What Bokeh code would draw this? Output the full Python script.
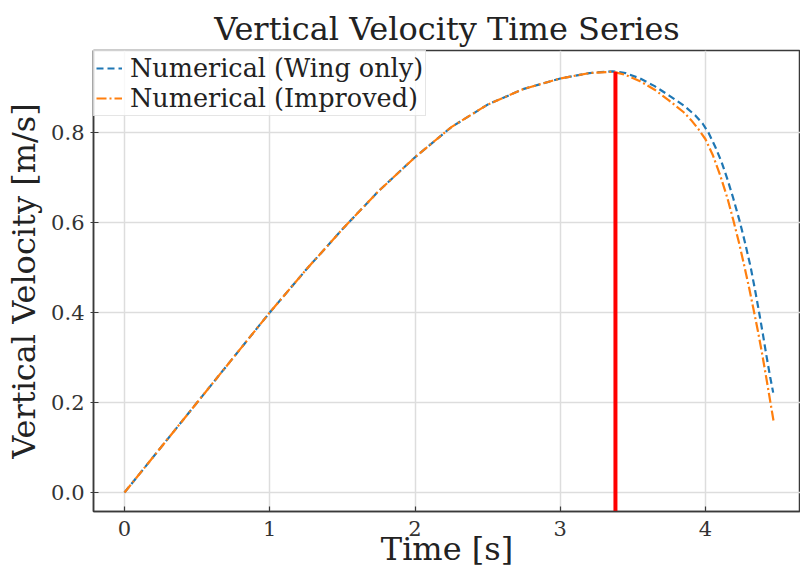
from bokeh.plotting import figure
from bokeh.models import Range1d, FixedTicker, Legend, LegendItem
from bokeh.embed import file_html
from bokeh.resources import INLINE

# ---- data ----
time_wing = [0.0, 0.5, 1.0, 1.25, 1.5, 1.75, 2.0, 2.25, 2.5, 2.75, 3.0, 3.2, 3.36,
             3.45, 3.55, 3.65, 3.75, 3.85, 3.93, 3.98, 4.02, 4.07, 4.11, 4.15, 4.19,
             4.236, 4.27, 4.31, 4.34, 4.367, 4.395, 4.42, 4.445, 4.466]
vel_wing = [0.0, 0.2, 0.4, 0.495, 0.585, 0.67, 0.745, 0.812, 0.862, 0.897, 0.920, 0.932, 0.936,
            0.932, 0.920, 0.903, 0.882, 0.860, 0.838, 0.820, 0.800, 0.766, 0.735, 0.697, 0.655,
            0.602, 0.558, 0.502, 0.452, 0.404, 0.352, 0.303, 0.257, 0.222]

time_improved = [0.0, 0.5, 1.0, 1.25, 1.5, 1.75, 2.0, 2.25, 2.5, 2.75, 3.0, 3.2, 3.36,
                 3.45, 3.55, 3.65, 3.75, 3.85, 3.90, 3.95, 4.00, 4.05, 4.10, 4.15, 4.19,
                 4.23, 4.264, 4.30, 4.33, 4.36, 4.39, 4.42, 4.447, 4.47]
vel_improved = [0.0, 0.2, 0.4, 0.495, 0.585, 0.67, 0.745, 0.812, 0.862, 0.897, 0.920, 0.932, 0.935,
                0.928, 0.914, 0.895, 0.871, 0.845, 0.828, 0.808, 0.785, 0.750, 0.706, 0.655, 0.607,
                0.556, 0.508, 0.455, 0.408, 0.360, 0.308, 0.252, 0.200, 0.156]

peak_time = [3.38]
peak_velocity = [0.935]

x_ticks = [0, 1, 2, 3, 4]
x_tick_labels = ["0", "1", "2", "3", "4"]
y_ticks = [0.0, 0.2, 0.4, 0.6, 0.8]
y_tick_labels = ["0.0", "0.2", "0.4", "0.6", "0.8"]

x_min, x_max = -0.2134, 4.654
y_min, y_max = -0.0422, 0.9822

FONT = "DejaVu Serif"

p = figure(width=800, height=573, output_backend="svg", toolbar_location=None,
           x_range=Range1d(x_min, x_max), y_range=Range1d(y_min, y_max),
           min_border_left=93, min_border_right=0, min_border_top=50, min_border_bottom=62)

p.title.text = "Vertical Velocity Time Series"
p.title.text_font = FONT
p.title.text_font_size = "32px"
p.title.text_font_style = "normal"
p.title.text_color = "#222222"
p.title.align = "center"
p.title.standoff = 6

p.outline_line_color = "#3a3a3a"
p.outline_line_width = 1.5
p.background_fill_color = "white"
p.border_fill_color = "white"

p.xgrid.grid_line_color = "#dddddd"
p.ygrid.grid_line_color = "#dddddd"
p.xgrid.grid_line_width = 1.5
p.ygrid.grid_line_width = 1.5

p.xaxis.ticker = FixedTicker(ticks=x_ticks)
p.yaxis.ticker = FixedTicker(ticks=y_ticks)
p.xaxis.major_label_overrides = {t: l for t, l in zip(x_ticks, x_tick_labels)}
p.yaxis.major_label_overrides = {t: l for t, l in zip(y_ticks, y_tick_labels)}

for ax in (p.xaxis, p.yaxis):
    ax.axis_line_color = "#3a3a3a"
    ax.axis_line_width = 1.5
    ax.major_tick_line_color = "#3a3a3a"
    ax.major_tick_line_width = 1.2
    ax.minor_tick_line_color = None
    ax.major_label_text_font = FONT
    ax.major_label_text_font_size = "21px"
    ax.major_label_text_color = "#333333"
    ax.axis_label_text_font = FONT
    ax.axis_label_text_font_style = "normal"
    ax.axis_label_text_color = "#222222"

p.xaxis.axis_label = "Time [s]"
p.xaxis.axis_label_text_font_size = "32px"
p.xaxis.major_tick_in = 5
p.xaxis.major_tick_out = 0
p.xaxis.major_label_standoff = 9
p.xaxis.axis_label_standoff = -9

p.yaxis.axis_label = "Vertical Velocity [m/s]"
p.yaxis.axis_label_text_font_size = "32px"
p.yaxis.major_tick_in = 5
p.yaxis.major_tick_out = 3
p.yaxis.major_label_standoff = 6
p.yaxis.axis_label_standoff = 5

r_wing = p.line(time_wing, vel_wing, line_color="#1f77b4", line_width=2.2, line_dash="7 4")
r_imp = p.line(time_improved, vel_improved, line_color="#ff7f0e", line_width=2.2, line_dash="10 3 2 3")

p.segment(x0=peak_time, y0=[y_min], x1=peak_time, y1=peak_velocity,
          line_color="red", line_width=4)

legend = Legend(items=[LegendItem(label="Numerical (Wing only)", renderers=[r_wing]),
                       LegendItem(label="Numerical (Improved)", renderers=[r_imp])],
                location="top_left", margin=0, padding=2, spacing=0,
                label_text_font=FONT, label_text_font_size="25.5px", label_text_color="#222222",
                label_height=22, glyph_height=22, glyph_width=26, label_standoff=8,
                border_line_color="#cccccc", border_line_width=1,
                background_fill_color="white", background_fill_alpha=0.8)
p.add_layout(legend, "center")

open("out.html", "w").write(file_html(p, INLINE))
